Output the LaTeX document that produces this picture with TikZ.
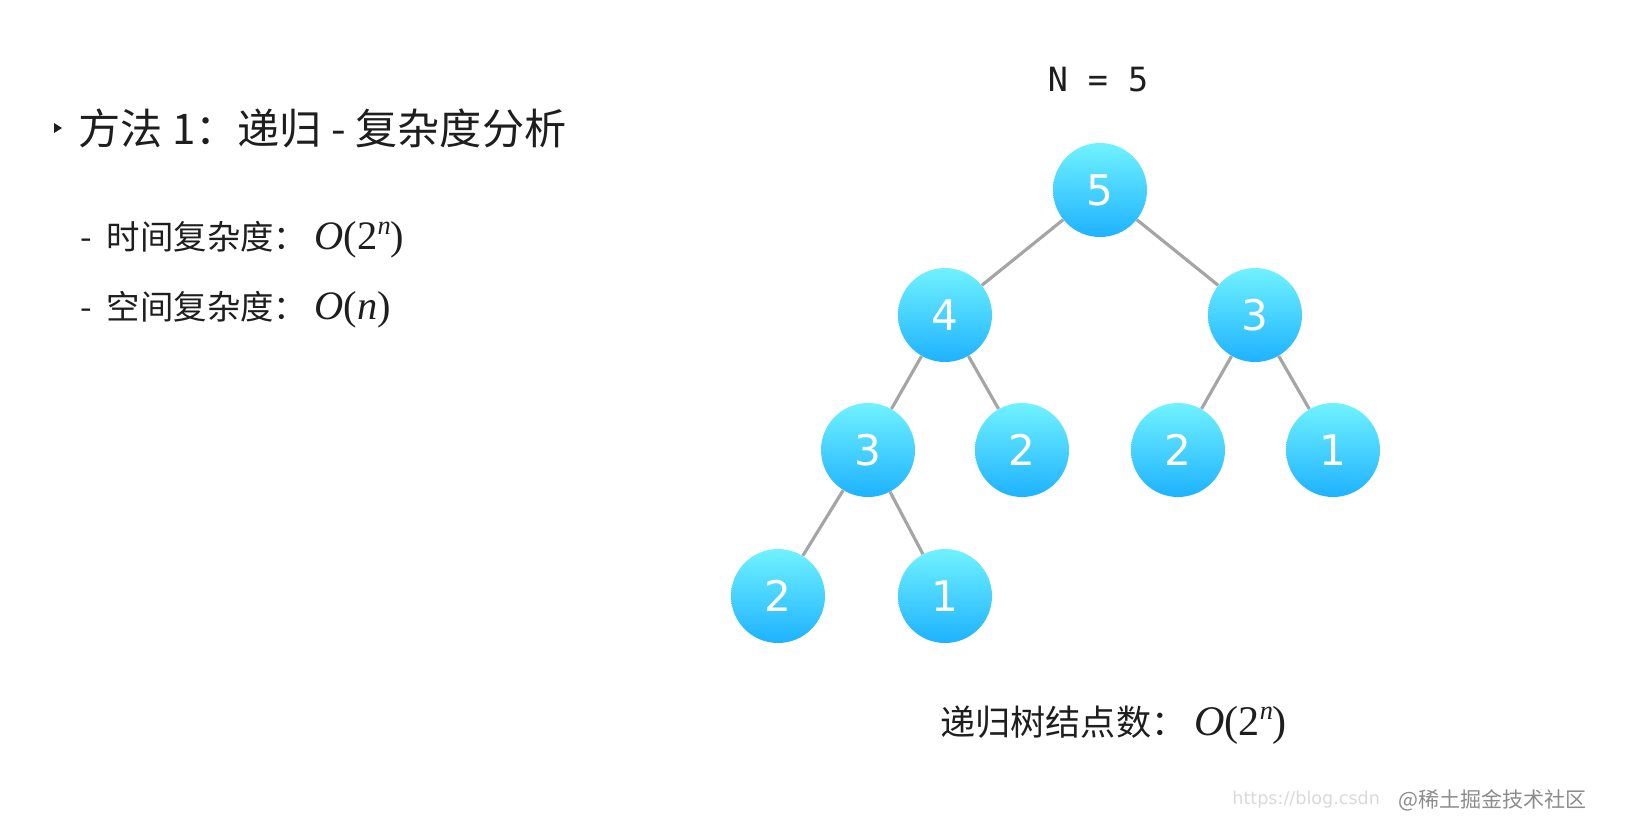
\documentclass[tikz,border=0pt]{standalone}
\usepackage{fontspec}
\setmainfont{Liberation Serif}
\newfontfamily\cjk{Noto Sans CJK SC}
\newfontfamily\dvs{DejaVu Sans}
\newfontfamily\mono{DejaVu Sans Mono}
\newcommand{\mO}[1]{{\rmfamily\fontsize{#1}{#1}\selectfont\itshape O\/\upshape(}}
\definecolor{edgegray}{RGB}{165,165,165}
\definecolor{topc}{RGB}{112,242,255}
\definecolor{botc}{RGB}{30,178,255}
\definecolor{txt}{RGB}{30,30,30}
\begin{document}
\begin{tikzpicture}[x=0.02cm,y=-0.02cm,
  tn/.style={circle,minimum size=1.88cm,inner sep=0pt,top color=topc,bottom color=botc,draw=none,text=white,font=\dvs\fontsize{24}{28}\selectfont},
  ed/.style={draw=edgegray,line width=1.8pt},
  lbl/.style={anchor=west,text=txt,inner sep=0pt}]
\useasboundingbox (0,0) rectangle (1648,818);
\fill[txt] (54,123) -- (62,128) -- (54,133) -- cycle;
\node[lbl,font=\cjk\fontsize{24}{28}\selectfont] (title) at (78,128) {方法 1：递归 - 复杂度分析};
\node[lbl,font=\cjk\fontsize{19}{22}\selectfont] (t1) at (80,240) {-\ \ 时间复杂度：\ {\rmfamily\fontsize{23}{26}\selectfont\itshape O\/\upshape(2\raisebox{0.8ex}{\fontsize{15}{15}\selectfont\itshape n}\upshape)}};
\node[lbl,font=\cjk\fontsize{19}{22}\selectfont] (t2) at (80,310) {-\ \ 空间复杂度：\ {\rmfamily\fontsize{23}{26}\selectfont\itshape O\/\upshape(\textit{n}\/)}};
\node[font=\mono\fontsize{19}{22}\selectfont,text=txt] (N) at (1098,80) {N = 5};
\node[tn] (a) at (1100,190) {5};
\node[tn] (b) at (945,315) {4};
\node[tn] (c) at (1255,315) {3};
\node[tn] (d) at (868,450) {3};
\node[tn] (e) at (1022,450) {2};
\node[tn] (f) at (1178,450) {2};
\node[tn] (g) at (1333,450) {1};
\node[tn] (h) at (778,596) {2};
\node[tn] (i) at (945,596) {1};
\draw[ed] (a) -- (b); \draw[ed] (a) -- (c);
\draw[ed] (b) -- (d); \draw[ed] (b) -- (e);
\draw[ed] (c) -- (f); \draw[ed] (c) -- (g);
\draw[ed] (d) -- (h); \draw[ed] (d) -- (i);
\node[lbl,font=\cjk\fontsize{20}{24}\selectfont] (bot) at (940,725) {递归树结点数：\ {\rmfamily\fontsize{24}{26}\selectfont\itshape O\/\upshape(2\raisebox{0.8ex}{\fontsize{15}{15}\selectfont\itshape n}\upshape)}};
\node[lbl,font=\dvs\fontsize{10}{12}\selectfont,text=black!15] (w1) at (1232,800) {https://blog.csdn};
\node[lbl,font=\cjk\fontsize{12}{14}\selectfont,text=black!45] (w2) at (1398,800) {@稀土掘金技术社区};
\end{tikzpicture}
\end{document}
